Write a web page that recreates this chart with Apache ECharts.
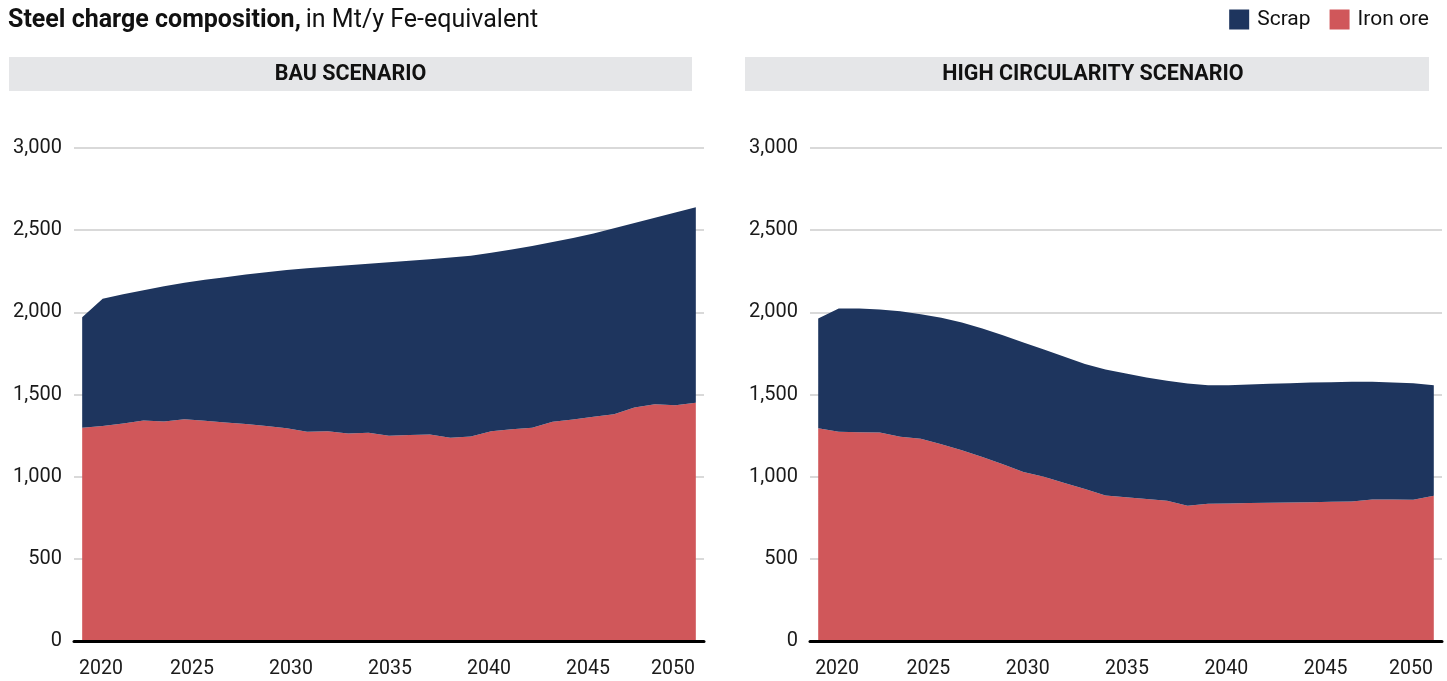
<!DOCTYPE html>
<html>
<head>
<meta charset="utf-8">
<script src="https://cdn.jsdelivr.net/npm/echarts@6/dist/echarts.min.js"></script>
<style>
  html, body { margin: 0; padding: 0; background: #fff; }
  #main { width: 1447px; height: 681px; }
</style>
</head>
<body>
<div id="main"></div>
<script>
var years = [];
for (var y = 2020; y <= 2050; y++) years.push(y);

var tickYears = [2020, 2025, 2030, 2035, 2040, 2045, 2050];

// BAU scenario, Mt/y Fe-equivalent
var bauIronOre = [1297, 1308, 1324, 1342, 1336, 1350, 1340, 1330, 1320, 1308,
                  1294, 1273, 1277, 1263, 1267, 1249, 1253, 1257, 1237, 1245,
                  1277, 1288, 1297, 1334, 1348, 1364, 1380, 1421, 1440, 1434, 1450];
var bauScrap = [673, 775, 786, 793, 822, 830, 858, 884, 910, 936,
                963, 995, 1001, 1024, 1029, 1056, 1061, 1066, 1096, 1100,
                1085, 1094, 1107, 1094, 1105, 1116, 1132, 1123, 1136, 1174, 1190];

// High circularity scenario
var hcIronOre = [1294, 1273, 1271, 1269, 1243, 1231, 1198, 1160, 1119, 1075,
                 1028, 999, 961, 925, 886, 874, 864, 853, 823, 835,
                 837, 839, 841, 843, 845, 847, 849, 861, 861, 859, 884];
var hcScrap = [669, 751, 753, 749, 764, 758, 769, 778, 783, 786,
               789, 775, 769, 760, 766, 754, 740, 730, 744, 722,
               720, 722, 724, 726, 728, 728, 728, 716, 712, 710, 673];

var NAVY = '#1e355e';
var RED = '#d0575a';
var FONT = 'Roboto, "Noto Sans", sans-serif';

// value first so the stack goes on y (both axes are value axes)
function pairs(vals) {
    return years.map(function (yr, i) { return [vals[i], yr]; });
}

function dataAxis(grid) {
    return {
        type: 'value', gridIndex: grid, min: 2019.6, max: 2050.4,
        axisLine: { show: true, onZero: false, lineStyle: { color: '#000', width: 3 } },
        axisTick: { show: false },
        axisLabel: { show: false },
        splitLine: { show: false },
        z: 5
    };
}

// separate axis for the year labels, they sit on a slightly different scale
function labelAxis(grid) {
    return {
        type: 'value', gridIndex: grid, min: 2019.04, max: 2050.86,
        position: 'bottom',
        axisLine: { show: false },
        axisTick: { show: false },
        splitLine: { show: false },
        axisLabel: {
            customValues: tickYears,
            margin: 18,
            color: '#1a1a1a',
            fontFamily: FONT,
            fontSize: 19.5,
            formatter: function (v) {
                if (v === 2020) return '{first|' + v + '}';
                if (v === 2050) return '{last|' + v + '}';
                return String(v);
            },
            rich: {
                first: { padding: [0, 0, 0, 16], fontFamily: FONT, fontSize: 19.5, color: '#1a1a1a' },
                last: { padding: [0, 28, 0, 0], fontFamily: FONT, fontSize: 19.5, color: '#1a1a1a' }
            }
        }
    };
}

function valAxis(grid) {
    return {
        type: 'value', gridIndex: grid, min: 0, max: 3000, interval: 500,
        axisLine: { show: false },
        axisTick: { show: false },
        axisLabel: {
            margin: 12,
            color: '#1a1a1a',
            fontFamily: FONT,
            fontSize: 20,
            formatter: function (v) { return v.toLocaleString('en-US'); }
        },
        splitLine: { lineStyle: { color: '#cccccc', width: 1.5 } }
    };
}

function area(name, vals, xi, yi, stack, color) {
    return {
        name: name, type: 'line', stack: stack,
        xAxisIndex: xi, yAxisIndex: yi,
        encode: { x: 1, y: 0 },
        data: pairs(vals),
        symbol: 'none',
        lineStyle: { width: 0 },
        areaStyle: { color: color, opacity: 1 },
        itemStyle: { color: color },
        silent: true
    };
}

var myChart = echarts.init(document.getElementById('main'));

option = {
    animation: false,
    title: {
        left: 8, top: 8, padding: 0,
        text: '{b|Steel charge composition,} {n|in Mt/y Fe-equivalent}',
        textStyle: {
            rich: {
                b: { fontFamily: FONT, fontSize: 25, fontWeight: 'bold', color: '#111' },
                n: { fontFamily: FONT, fontSize: 25, fontWeight: 'normal', color: '#111' }
            }
        }
    },
    legend: {
        right: 18, top: 9, padding: 0,
        data: ['Scrap', 'Iron ore'],
        icon: 'rect',
        itemWidth: 20, itemHeight: 20,
        itemGap: 19,
        textStyle: { fontFamily: FONT, fontSize: 21, color: '#111', padding: [0, 0, 0, 3] },
        selectedMode: false
    },
    graphic: [
        { type: 'rect', shape: { x: 9, y: 57, width: 683, height: 34 }, style: { fill: '#e5e6e8' }, silent: true },
        { type: 'text', x: 350.5, y: 74.5, style: { text: 'BAU SCENARIO', align: 'center', verticalAlign: 'middle',
            font: 'bold 21.5px Roboto, sans-serif', fill: '#111' }, silent: true },
        { type: 'rect', shape: { x: 745, y: 57, width: 684, height: 34 }, style: { fill: '#e5e6e8' }, silent: true },
        { type: 'text', x: 1093, y: 74.5, style: { text: 'HIGH CIRCULARITY SCENARIO', align: 'center', verticalAlign: 'middle',
            font: 'bold 21.5px Roboto, sans-serif', fill: '#111' }, silent: true }
    ],
    grid: [
        { left: 74, top: 148, width: 630, height: 493 },
        { left: 810, top: 148, width: 632, height: 493 }
    ],
    xAxis: [dataAxis(0), labelAxis(0), dataAxis(1), labelAxis(1)],
    yAxis: [valAxis(0), valAxis(1)],
    series: [
        area('Iron ore', bauIronOre, 0, 0, 'bau', RED),
        area('Scrap', bauScrap, 0, 0, 'bau', NAVY),
        area('Iron ore', hcIronOre, 2, 1, 'hc', RED),
        area('Scrap', hcScrap, 2, 1, 'hc', NAVY)
    ]
};
myChart.setOption(option);
</script>
</body>
</html>
